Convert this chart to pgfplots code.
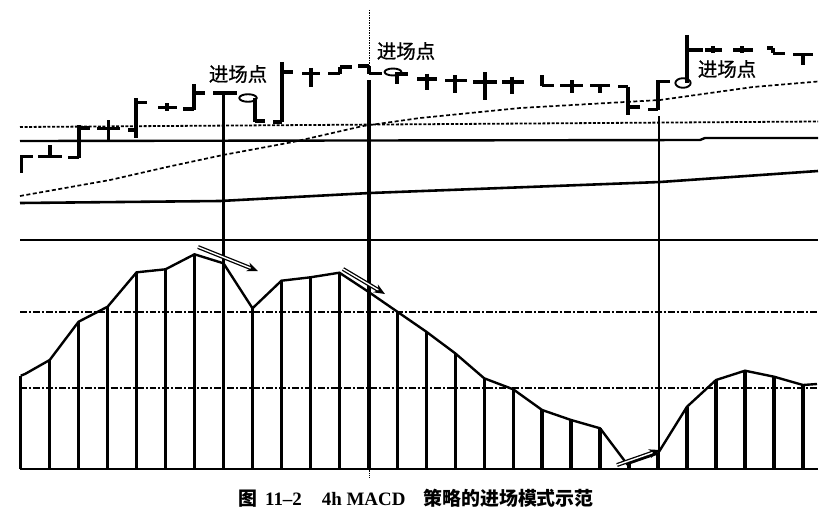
\documentclass[border=0pt]{standalone}
\usepackage{fontspec}
\setmainfont{Liberation Serif}
\newfontfamily\cjk{Noto Sans CJK SC}
\newfontfamily\cjklab{Noto Sans CJK SC}[FakeBold=0.8]
\usepackage{pgfplots}
\pgfplotsset{compat=1.18}
\usetikzlibrary{arrows.meta}
\begin{document}
\begin{tikzpicture}
\begin{axis}[scale only axis, width=840bp, height=517bp,
  xmin=0, xmax=840, ymin=0, ymax=517, y dir=reverse,
  hide axis, clip=false, unbounded coords=jump]
% frame of the picture (invisible, fixes the bounding box)
\addplot[draw=none] coordinates {(0,0) (840,517)};
% ---------- upper panel reference lines
\addplot[black, line width=1.8pt, dash pattern=on 3pt off 1.6pt] coordinates {(20,127) (818,121.5)};
\addplot[black, line width=2.4pt] coordinates {(20,141) (700,140) (705,138) (818,138)};
\addplot[black, line width=1.7pt, dash pattern=on 4pt off 2.5pt] coordinates {
(20,196) (110,180) (167,167) (223,155) (293,142) (363,126) (420,118) (520,108) (660,100) (753,87) (818,81.5)};
\addplot[black, line width=2.6pt] coordinates {(20,203) (220,201) (370,193) (660,182) (818,171)};
% ---------- price bars (OHLC style)
\addplot[black, line width=3.8pt] coordinates {
(21.5,155) (21.5,173) (nan,nan) (21.5,156.5) (33,156.5) (nan,nan)
(38,156.5) (62,156.5) (nan,nan) (50,145) (50,156.5) (nan,nan)
(68,157.5) (79,157.5) (nan,nan) (79,125) (79,158) (nan,nan) (79,128) (90,128) (nan,nan)
(97,128.5) (120,128.5) (nan,nan) (108.5,120) (108.5,140) (nan,nan)
(128,130) (136,130) (nan,nan) (136,98) (136,138) (nan,nan) (136,102.5) (147,102.5) (nan,nan)
(158,107.5) (177,107.5) (nan,nan) (167,103) (167,111) (nan,nan)
(183,109) (194,109) (nan,nan) (194,84) (194,110) (nan,nan) (194,93) (205,93) (nan,nan)
(213,93) (237,93) (nan,nan)
(255,98) (255,122) (nan,nan) (255,121) (265,121) (nan,nan)
(273,122) (282,122) (nan,nan) (282,62) (282,122) (nan,nan) (282,72) (293,72) (nan,nan)
(302,73.5) (320,73.5) (nan,nan) (311,68) (311,87) (nan,nan)
(328,73.5) (340,73.5) (nan,nan) (340,67) (340,74) (nan,nan) (340,67) (352,67) (nan,nan)
(358,66) (369,66) (nan,nan) (369,66) (369,74) (nan,nan) (369,73.5) (382,73.5) (nan,nan)
(397,72) (397,84) (nan,nan) (397,74) (408,74) (nan,nan)
(417,79) (437,79) (nan,nan) (427,73.5) (427,90) (nan,nan)
(445,80.5) (467,80.5) (nan,nan) (455,75) (455,93) (nan,nan)
(473,82) (497,82) (nan,nan) (485,72) (485,100) (nan,nan)
(502,82) (524,82) (nan,nan) (512,76.5) (512,93.5) (nan,nan)
(542,75) (542,85.5) (nan,nan) (542,85.5) (554,85.5) (nan,nan)
(560,85.5) (583,85.5) (nan,nan) (572,80) (572,93) (nan,nan)
(590,85.5) (610,85.5) (nan,nan) (600,85.5) (600,93) (nan,nan)
(618,86.5) (628,86.5) (nan,nan) (628,86.5) (628,115) (nan,nan) (628,107) (640,107) (nan,nan)
(648,109.5) (658,109.5) (nan,nan) (658,80) (658,110) (nan,nan) (658,81.5) (670,81.5) (nan,nan)
(687,35) (687,83) (nan,nan) (687,50) (703,50) (nan,nan)
(705,50) (722,50) (nan,nan) (713,46.5) (713,53.5) (nan,nan)
(733,50) (753,50) (nan,nan) (742,46.5) (742,53.5) (nan,nan)
(767,48) (773,48) (nan,nan) (773,48) (773,53.5) (nan,nan) (773,53.5) (785,53.5) (nan,nan)
(793,54.5) (813,54.5) (nan,nan) (803,54.5) (803,65)};
% entry circles
\addplot[only marks, mark=o, mark size=3.8pt, mark options={xscale=2.3, line width=1.9pt, black}] coordinates {(248,98)};
\addplot[only marks, mark=o, mark size=3.5pt, mark options={xscale=2.4, line width=1.9pt, black}] coordinates {(393,72)};
\addplot[only marks, mark=o, mark size=4.8pt, mark options={xscale=1.6, line width=1.9pt, black}] coordinates {(683,83)};
% ---------- MACD panel
\addplot[black, line width=2.4pt] coordinates {(20,240) (818,240)};
\addplot[black, line width=1.4pt, dash pattern=on 7pt off 2pt on 2pt off 2pt] coordinates {(20,312) (818,312)};
\addplot[black, line width=1.4pt, dash pattern=on 7pt off 2pt on 2pt off 2pt] coordinates {(20,388) (818,388)};
\addplot[black, line width=2.8pt] coordinates {(20,469) (818,469)};
% histogram bars
\addplot[black, line width=3.3pt] coordinates {
(20.7,469) (20.7,375.7) (nan,nan) (49.7,469) (49.7,360) (nan,nan)
(78.6,469) (78.6,321.7) (nan,nan) (107.6,469) (107.6,306.7) (nan,nan)
(136.6,469) (136.6,272.3) (nan,nan) (165.5,469) (165.5,269.3) (nan,nan)
(194.5,469) (194.5,254.3) (nan,nan) (223.5,469) (223.5,263.3) (nan,nan)
(252.5,469) (252.5,308.3) (nan,nan) (281.4,469) (281.4,280.7) (nan,nan)
(310.4,469) (310.4,277.3) (nan,nan) (339.4,469) (339.4,272.7) (nan,nan)
(368.3,469) (368.3,291.7) (nan,nan) (397.3,469) (397.3,311.7) (nan,nan)
(426.3,469) (426.3,331.7) (nan,nan) (455.2,469) (455.2,353.3) (nan,nan)
(484.2,469) (484.2,378.3) (nan,nan) (513.2,469) (513.2,389.3) (nan,nan)
(542.1,469) (542.1,410) (nan,nan) (571.1,469) (571.1,420) (nan,nan)
(600.1,469) (600.1,428.3) (nan,nan) (629,469) (629,464) (nan,nan)
(658,469) (658,453.3) (nan,nan) (687,469) (687,406.7) (nan,nan)
(716,469) (716,380) (nan,nan) (745,469) (745,370.7) (nan,nan)
(774,469) (774,376.7) (nan,nan) (803,469) (803,385)};
\addplot[black, line width=2.4pt] coordinates {
(20.7,375.7) (25,374) (49.7,360) (78.6,321.7) (107.6,306.7) (136.6,272.3) (165.5,269.3)
(194.5,254.3) (223.5,263.3) (252.5,308.3) (281.4,280.7) (310.4,277.3) (339.4,272.7)
(368.3,291.7) (397.3,311.7) (426.3,331.7) (455.2,353.3) (484.2,378.3) (513.2,389.3)
(542.1,410) (571.1,420) (600.1,428.3) (627,464) (658,453.3) (687,406.7) (716,380)
(745,370.7) (774,376.7) (803,385) (817,384)};
% entry lines
\addplot[black, line width=3.2pt] coordinates {(223.5,93) (223.5,469)};
\addplot[black, line width=4.5pt] coordinates {(369,80) (369,469)};
\addplot[black, line width=1.3pt, dash pattern=on 1.5pt off 1pt] coordinates {(369.5,10) (369.5,66)};
\addplot[black, line width=1.3pt, dash pattern=on 1.5pt off 1pt] coordinates {(369.5,470) (369.5,478)};
\addplot[black, line width=2.6pt] coordinates {(659,116) (659,469)};
% arrows
\addplot[black, line width=1.3pt, double, double distance=1.4pt, -{Stealth[length=11pt,width=9pt]}] coordinates {(198,247) (258,271)};
\addplot[black, line width=1.3pt, double, double distance=1.4pt, -{Stealth[length=11pt,width=9pt]}] coordinates {(343,269) (385,294)};
\addplot[black, line width=1.3pt, double, double distance=1.4pt, -{Stealth[length=11pt,width=9pt]}] coordinates {(617,465) (660,450)};
% labels
\node[font=\cjklab\fontsize{19.5}{20}\selectfont, inner sep=0pt] at (axis cs:238,74) {进场点};
\node[font=\cjklab\fontsize{19.5}{20}\selectfont, inner sep=0pt] at (axis cs:406,51) {进场点};
\node[font=\cjklab\fontsize{19.5}{20}\selectfont, inner sep=0pt] at (axis cs:727,69) {进场点};
\node[inner sep=0pt, anchor=base west, font=\fontsize{19}{19}\selectfont\bfseries] at (axis cs:238,505)
  {{\cjk\bfseries 图}\hspace{8pt}11–2\hspace{20pt}4h MACD\hspace{18pt}{\cjk\bfseries 策略的进场模式示范}};
\end{axis}
\end{tikzpicture}
\end{document}
